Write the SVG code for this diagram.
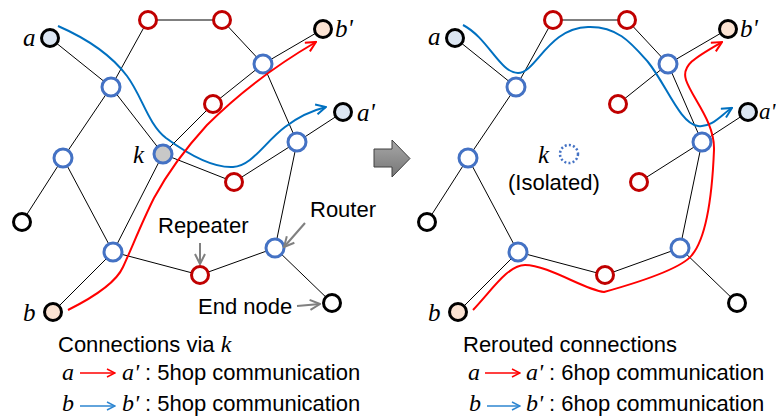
<svg xmlns="http://www.w3.org/2000/svg" width="776" height="416" viewBox="0 0 776 416">
<defs>
<style>
.e{stroke:#000;stroke-width:1;fill:none}
.end{fill:#fff;stroke:#000;stroke-width:3}
.rt{fill:#fff;stroke:#4472c4;stroke-width:3}
.rp{fill:#fff;stroke:#c00000;stroke-width:3}
.blue{fill:none;stroke:#0070c0;stroke-width:2}
.red{fill:none;stroke:#ff0000;stroke-width:2}
.it{font-family:"Liberation Serif",serif;font-style:italic;fill:#000}
.sans{font-family:"Liberation Sans",Arial,sans-serif;font-size:22px;fill:#000}
.ga{stroke:#808080;stroke-width:2;fill:none}
</style>
<marker id="mb" viewBox="0 0 12 12" refX="11" refY="6" markerWidth="12" markerHeight="12" markerUnits="userSpaceOnUse" orient="auto"><path d="M1,1 L11,6 L1,11" fill="none" stroke="#0070c0" stroke-width="2"/></marker>
<marker id="mr" viewBox="0 0 12 12" refX="11" refY="6" markerWidth="12" markerHeight="12" markerUnits="userSpaceOnUse" orient="auto"><path d="M1,1 L11,6 L1,11" fill="none" stroke="#ff0000" stroke-width="2"/></marker>
<marker id="mbl" viewBox="0 0 10 10" refX="9" refY="5" markerWidth="10" markerHeight="10" markerUnits="userSpaceOnUse" orient="auto"><path d="M1,1 L9,5 L1,9" fill="none" stroke="#2e86d1" stroke-width="1.5"/></marker>
<marker id="mrl" viewBox="0 0 10 10" refX="9" refY="5" markerWidth="10" markerHeight="10" markerUnits="userSpaceOnUse" orient="auto"><path d="M1,1 L9,5 L1,9" fill="none" stroke="#ff0000" stroke-width="1.5"/></marker>
<marker id="mg" viewBox="0 0 12 12" refX="11" refY="6" markerWidth="12" markerHeight="12" markerUnits="userSpaceOnUse" orient="auto"><path d="M1,1 L11,6 L1,11" fill="none" stroke="#808080" stroke-width="2"/></marker>
<linearGradient id="gg" x1="0" y1="0" x2="0" y2="1"><stop offset="0" stop-color="#a8a8a8"/><stop offset="1" stop-color="#767676"/></linearGradient>
</defs>
<rect width="776" height="416" fill="#fff"/>

<g id="connectors">
<g id="left-edges" class="e">
<line x1="50" y1="38" x2="111" y2="87"/>
<line x1="111" y1="87" x2="148" y2="20"/>
<line x1="148" y1="20" x2="222" y2="20"/>
<line x1="222" y1="20" x2="263" y2="64"/>
<line x1="263" y1="64" x2="323" y2="29"/>
<line x1="263" y1="64" x2="297" y2="142"/>
<line x1="213" y1="104" x2="263" y2="64"/>
<line x1="163" y1="154" x2="213" y2="104"/>
<line x1="111" y1="87" x2="163" y2="154"/>
<line x1="111" y1="87" x2="63" y2="158"/>
<line x1="163" y1="154" x2="234" y2="182"/>
<line x1="234" y1="182" x2="297" y2="142"/>
<line x1="297" y1="142" x2="343" y2="112"/>
<line x1="297" y1="142" x2="275" y2="248"/>
<line x1="63" y1="158" x2="22" y2="222"/>
<line x1="63" y1="158" x2="113" y2="252"/>
<line x1="163" y1="154" x2="113" y2="252"/>
<line x1="113" y1="252" x2="53" y2="312"/>
<line x1="113" y1="252" x2="200" y2="275"/>
<line x1="200" y1="275" x2="275" y2="248"/>
<line x1="275" y1="248" x2="332" y2="303"/>
</g>
<g id="right-edges" class="e">
<line x1="455" y1="38" x2="516" y2="87"/>
<line x1="516" y1="87" x2="553" y2="20"/>
<line x1="553" y1="20" x2="627" y2="20"/>
<line x1="627" y1="20" x2="668" y2="64"/>
<line x1="668" y1="64" x2="728" y2="29"/>
<line x1="668" y1="64" x2="702" y2="142"/>
<line x1="618" y1="104" x2="668" y2="64"/>
<line x1="516" y1="87" x2="468" y2="158"/>
<line x1="639" y1="182" x2="702" y2="142"/>
<line x1="702" y1="142" x2="748" y2="112"/>
<line x1="702" y1="142" x2="680" y2="248"/>
<line x1="468" y1="158" x2="427" y2="222"/>
<line x1="468" y1="158" x2="518" y2="252"/>
<line x1="518" y1="252" x2="458" y2="312"/>
<line x1="518" y1="252" x2="605" y2="275"/>
<line x1="605" y1="275" x2="680" y2="248"/>
<line x1="680" y1="248" x2="737" y2="303"/>
</g>
</g>

<g id="left-nodes">
<g id="L-a"><circle cx="50" cy="38" r="8.5" class="end" style="fill:#dce6f2"/></g>
<g id="L-rep1"><circle cx="148" cy="20" r="8.5" class="rp"/></g>
<g id="L-rep2"><circle cx="222" cy="20" r="8.5" class="rp"/></g>
<g id="L-bp"><circle cx="323" cy="29" r="8.5" class="end" style="fill:#fbe3d3"/></g>
<g id="L-r1"><circle cx="111" cy="87" r="9" class="rt"/></g>
<g id="L-r3"><circle cx="263" cy="64" r="9" class="rt"/></g>
<g id="L-rep3"><circle cx="213" cy="104" r="8.5" class="rp"/></g>
<g id="L-ap"><circle cx="343" cy="112" r="8.5" class="end" style="fill:#dce6f2"/></g>
<g id="L-r2"><circle cx="63" cy="158" r="9" class="rt"/></g>
<g id="L-k"><circle cx="163" cy="154" r="9" class="rt" style="fill:#c8c8c8"/></g>
<g id="L-r4"><circle cx="297" cy="142" r="9" class="rt"/></g>
<g id="L-rep4"><circle cx="234" cy="182" r="8.5" class="rp"/></g>
<g id="L-endl"><circle cx="22" cy="222" r="8.5" class="end"/></g>
<g id="L-r6"><circle cx="113" cy="252" r="9" class="rt"/></g>
<g id="L-rep5"><circle cx="200" cy="275" r="8.5" class="rp"/></g>
<g id="L-r7"><circle cx="275" cy="248" r="9" class="rt"/></g>
<g id="L-endbr"><circle cx="332" cy="303" r="8.5" class="end"/></g>
<g id="L-b"><circle cx="53" cy="312" r="8.5" class="end" style="fill:#fbe3d3"/></g>
</g>

<g id="right-nodes">
<g id="R-a"><circle cx="455" cy="38" r="8.5" class="end" style="fill:#dce6f2"/></g>
<g id="R-rep1"><circle cx="553" cy="20" r="8.5" class="rp"/></g>
<g id="R-rep2"><circle cx="627" cy="20" r="8.5" class="rp"/></g>
<g id="R-bp"><circle cx="728" cy="29" r="8.5" class="end" style="fill:#fbe3d3"/></g>
<g id="R-r1"><circle cx="516" cy="87" r="9" class="rt"/></g>
<g id="R-r3"><circle cx="668" cy="64" r="9" class="rt"/></g>
<g id="R-rep3"><circle cx="618" cy="104" r="8.5" class="rp"/></g>
<g id="R-ap"><circle cx="748" cy="112" r="8.5" class="end" style="fill:#dce6f2"/></g>
<g id="R-r2"><circle cx="468" cy="158" r="9" class="rt"/></g>
<g id="R-k"><circle cx="569" cy="154" r="9" fill="none" stroke="#4472c4" stroke-width="2.5" stroke-dasharray="2 2.2"/></g>
<g id="R-r4"><circle cx="702" cy="142" r="9" class="rt"/></g>
<g id="R-rep4"><circle cx="639" cy="182" r="8.5" class="rp"/></g>
<g id="R-endl"><circle cx="427" cy="222" r="8.5" class="end"/></g>
<g id="R-r6"><circle cx="518" cy="252" r="9" class="rt"/></g>
<g id="R-rep5"><circle cx="605" cy="275" r="8.5" class="rp"/></g>
<g id="R-r7"><circle cx="680" cy="248" r="9" class="rt"/></g>
<g id="R-endbr"><circle cx="737" cy="303" r="8.5" class="end"/></g>
<g id="R-b"><circle cx="458" cy="312" r="8.5" class="end" style="fill:#fbe3d3"/></g>
</g>

<g id="routes">
<path class="blue" marker-end="url(#mb)" d="M58,26 C90,40 112,56 127,76 C142,96 148,124 166,138 C185,152 212,168 233,167 C252,166 265,142 285,127 C298,117 310,111 326,107"/>
<path class="red" marker-end="url(#mr)" d="M68,310 C92,298 116,283 123,267 C131,250 141,224 154,198 C168,172 186,148 207,125 C232,100 268,70 316,42"/>
<path class="blue" marker-end="url(#mb)" d="M463,25 C488,38 500,73 518,73 C536,73 548,28 588,27 C618,26 632,44 648,62 C666,84 680,124 698,126 C712,128 722,114 732,108"/>
<path class="red" marker-end="url(#mr)" d="M473,310 C492,290 508,265 525,265 C548,265 585,290 604,292 C640,282 682,268 692,255 C706,238 712,200 714,150 C715,122 692,98 686,80 C681,65 696,57 722,42"/>
</g>

<g id="transition-arrow">
<polygon points="374,149 392,149 392,140 410,158.5 392,177 392,167 374,167" fill="url(#gg)" stroke="#404040" stroke-width="1"/>
</g>

<g id="label-arrows">
<line class="ga" x1="200" y1="243" x2="200" y2="264" marker-end="url(#mg)"/>
<line class="ga" x1="305" y1="223" x2="284" y2="247" marker-end="url(#mg)"/>
<line class="ga" x1="297" y1="306" x2="320" y2="304" marker-end="url(#mg)"/>
</g>

<g id="labels">
<text class="it" x="23" y="46" font-size="25">a</text>
<text class="it" x="335" y="37" font-size="25">b'</text>
<text class="it" x="357" y="121" font-size="25">a'</text>
<text class="it" x="133" y="163" font-size="25">k</text>
<text class="it" x="23" y="321" font-size="25">b</text>
<text class="sans" x="158" y="233">Repeater</text>
<text class="sans" x="310" y="217">Router</text>
<text class="sans" x="198" y="314">End node</text>

<text class="it" x="428" y="45" font-size="25">a</text>
<text class="it" x="740" y="37" font-size="25">b'</text>
<text class="it" x="759" y="119" font-size="23">a'</text>
<text class="it" x="538" y="163" font-size="25">k</text>
<text class="sans" x="508" y="190">(Isolated)</text>
<text class="it" x="428" y="321" font-size="25">b</text>
</g>

<g id="legend-left">
<text class="sans" x="58" y="352">Connections via <tspan class="it" font-size="24">k</tspan></text>
<text class="it" x="62" y="380" font-size="24">a</text>
<line x1="80" y1="373" x2="115" y2="373" stroke="#ff0000" stroke-width="1.5" marker-end="url(#mrl)"/>
<text class="it" x="122" y="380" font-size="24">a'</text>
<text class="sans" x="145" y="380">: 5hop communication</text>
<text class="it" x="62" y="411" font-size="24">b</text>
<line x1="80" y1="406" x2="115" y2="406" stroke="#2e86d1" stroke-width="1.5" marker-end="url(#mbl)"/>
<text class="it" x="122" y="411" font-size="24">b'</text>
<text class="sans" x="145" y="411">: 5hop communication</text>
</g>

<g id="legend-right">
<text class="sans" x="463" y="352">Rerouted connections</text>
<text class="it" x="468" y="380" font-size="24">a</text>
<line x1="485" y1="373" x2="520" y2="373" stroke="#ff0000" stroke-width="1.5" marker-end="url(#mrl)"/>
<text class="it" x="526" y="380" font-size="24">a'</text>
<text class="sans" x="549" y="380">: 6hop communication</text>
<text class="it" x="469" y="411" font-size="24">b</text>
<line x1="487" y1="406" x2="520" y2="406" stroke="#2e86d1" stroke-width="1.5" marker-end="url(#mbl)"/>
<text class="it" x="526" y="411" font-size="24">b'</text>
<text class="sans" x="549" y="411">: 6hop communication</text>
</g>
</svg>
